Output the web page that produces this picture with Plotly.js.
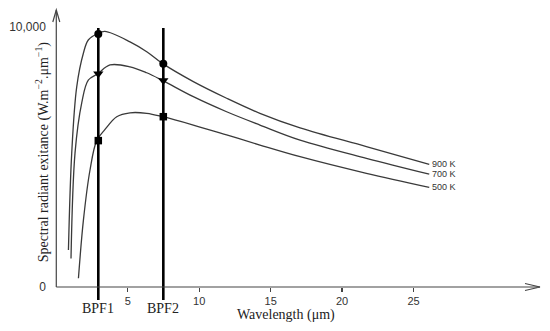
<!DOCTYPE html>
<html><head><meta charset="utf-8">
<script src="https://cdn.plot.ly/plotly-3.0.1.min.js"></script>
<style>html,body{margin:0;padding:0;background:#fff}</style>
</head><body><div id="chart" style="width:550px;height:331px"></div>
<script>
// ---- data ----
const curveNames = ['900 K', '700 K', '500 K'];
const x900 = [0.85, 1.08, 1.43, 1.9, 2.24, 2.9, 3.4, 5.16, 6.33, 7.45, 9.59, 11.92, 14.25, 17.06, 21.7, 26.1];
const y900 = [1420, 5150, 7700, 9000, 9500, 9750, 9830, 9430, 9050, 8590, 7900, 7260, 6680, 6120, 5400, 4720];
const x700 = [1.03, 1.31, 1.78, 2.24, 2.9, 3.76, 5.16, 6.33, 7.45, 9.59, 11.92, 14.25, 17.06, 21.7, 26.1];
const y700 = [1100, 5150, 7080, 7960, 8200, 8540, 8470, 8240, 7940, 7320, 6740, 6230, 5650, 4950, 4340];
const x500 = [1.55, 1.9, 2.36, 2.83, 3.41, 4.23, 5.16, 6.33, 7.45, 9.59, 11.92, 14.25, 17.06, 21.7, 26.1];
const y500 = [335, 2580, 4500, 5630, 6060, 6550, 6700, 6680, 6550, 6230, 5850, 5460, 5010, 4370, 3830];

const bpfNames = ['BPF1', 'BPF2'];
const bpfX = [2.94, 7.49];
const bpfLineY = [-500, 9960];
const marker900 = [9730, 8590];
const marker700 = [8200, 7940];
const marker500 = [5630, 6550];

const xTickVals = [5, 10, 15, 20, 25];
const yTickVals = [0, 10000];
const yTickText = ['0', '10,000'];
const xTitle = 'Wavelength (μm)';
const yTitle = 'Spectral radiant exitance (W.m<sup>−2</sup>.μm<sup>−1</sup>)';

// ---- geometry ----
const xRange = [-1, 34.55];
const yRange = [-1692, 11038];
const xAxisEnd = 33.85;
const yAxisEnd = 10654;
const xPos = (0 - yRange[0]) / (yRange[1] - yRange[0]);
const yPos = (0 - xRange[0]) / (xRange[1] - xRange[0]);

const curveColor = '#3a3a3a';
const serif = 'Liberation Serif, Times New Roman, serif';
const sans = 'Liberation Sans, Arial, sans-serif';

const curves = [[x900, y900], [x700, y700], [x500, y500]];
const traces = curves.map((c, i) => ({
  x: c[0], y: c[1], type: 'scatter', mode: 'lines', name: curveNames[i],
  line: {color: curveColor, width: 1.3, shape: 'spline', smoothing: 1},
  hoverinfo: 'skip'
}));

bpfX.forEach((bx, i) => traces.push({
  x: [bx, bx], y: bpfLineY, type: 'scatter', mode: 'lines', name: bpfNames[i],
  line: {color: '#000', width: 2.6}, hoverinfo: 'skip'
}));

const markerSets = [[marker900, 'circle', 8], [marker700, 'triangle-down', 9], [marker500, 'square', 7.5]];
markerSets.forEach((m, i) => traces.push({
  x: bpfX, y: m[0], type: 'scatter', mode: 'markers', name: curveNames[i] + ' markers',
  marker: {color: '#000', symbol: m[1], size: m[2]}, cliponaxis: false, hoverinfo: 'skip'
}));

const annotations = [];
curves.forEach((c, i) => annotations.push({
  x: c[0][c[0].length - 1], y: c[1][c[1].length - 1], xref: 'x', yref: 'y',
  text: curveNames[i], showarrow: false, xanchor: 'left', yanchor: 'middle', xshift: 1,
  font: {family: sans, size: 9, color: '#333'}
}));
bpfX.forEach((bx, i) => annotations.push({
  x: bx, y: -808, xref: 'x', yref: 'y', text: bpfNames[i], showarrow: false,
  xanchor: 'center', yanchor: 'middle', font: {family: serif, size: 14, color: '#222'}
}));
annotations.push({
  x: 16.1, y: -1077, xref: 'x', yref: 'y', text: xTitle, showarrow: false,
  xanchor: 'center', yanchor: 'middle', font: {family: serif, size: 14, color: '#222'}
});
annotations.push({
  x: 0, y: 5190, xref: 'x', yref: 'y', text: yTitle, showarrow: false, textangle: -90,
  xanchor: 'center', yanchor: 'middle', xshift: -14, font: {family: serif, size: 14, color: '#222'}
});

const axisColor = '#444';
const shapes = [
  {type: 'line', xref: 'x', yref: 'y', x0: 0, y0: 0, x1: xAxisEnd, y1: 0, line: {color: axisColor, width: 1.2}},
  {type: 'line', xref: 'x', yref: 'y', x0: 0, y0: 0, x1: 0, y1: yAxisEnd, line: {color: axisColor, width: 1.2}},
  {type: 'path', xref: 'x', yref: 'y', xsizemode: 'pixel', ysizemode: 'pixel', xanchor: xAxisEnd, yanchor: 0,
   path: 'M-15,3.5 L0,0 L-15,-3.5', line: {color: axisColor, width: 1.2}},
  {type: 'path', xref: 'x', yref: 'y', xsizemode: 'pixel', ysizemode: 'pixel', xanchor: 0, yanchor: yAxisEnd,
   path: 'M-3.5,-12 L0,0 L3.5,-12', line: {color: axisColor, width: 1.2}}
];

const layout = {
  width: 550, height: 331,
  margin: {l: 42, r: 0, t: 0, b: 0},
  paper_bgcolor: '#fff', plot_bgcolor: '#fff',
  showlegend: false,
  xaxis: {range: xRange, anchor: 'free', position: xPos, showline: false, zeroline: false, showgrid: false,
    tickvals: xTickVals, ticks: 'outside', ticklen: 4, tickcolor: axisColor, tickwidth: 1.2,
    tickfont: {family: sans, size: 11, color: '#333'}, fixedrange: true},
  xaxis2: {range: xRange, overlaying: 'x', anchor: 'free', position: xPos, showline: false, zeroline: false,
    showgrid: false, tickvals: xTickVals, ticks: 'inside', ticklen: 3, tickcolor: axisColor, tickwidth: 1.2,
    showticklabels: false},
  yaxis: {range: yRange, anchor: 'free', position: yPos, showline: false, zeroline: false, showgrid: false,
    tickvals: yTickVals, ticktext: yTickText, ticks: 'outside', ticklen: 0, tickcolor: axisColor,
    ticklabelstandoff: 8, tickfont: {family: sans, size: 12, color: '#333'}, fixedrange: true},
  yaxis2: {range: yRange, overlaying: 'y', anchor: 'free', position: yPos, showline: false, zeroline: false,
    showgrid: false, tickvals: [yTickVals[1]], ticks: 'inside', ticklen: 5, tickcolor: axisColor, tickwidth: 1.2,
    showticklabels: false},
  shapes: shapes,
  annotations: annotations
};

Plotly.newPlot('chart', traces, layout, {displayModeBar: false, staticPlot: true});
</script></body></html>
